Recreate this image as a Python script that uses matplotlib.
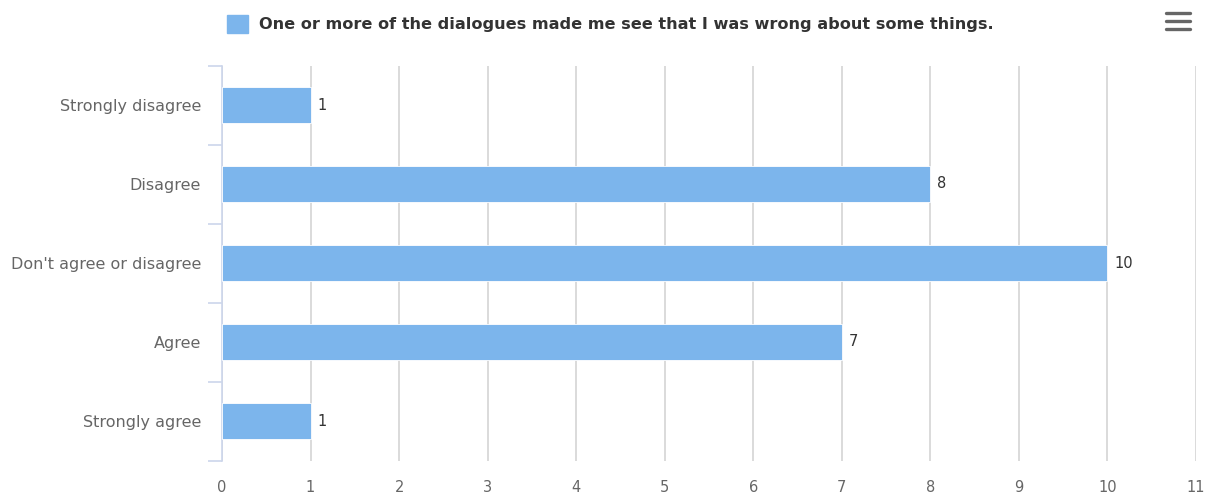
import matplotlib
matplotlib.use("Agg")
import matplotlib.pyplot as plt
from matplotlib.lines import Line2D
from matplotlib.patches import Rectangle

categories = ["Strongly disagree", "Disagree", "Don't agree or disagree", "Agree", "Strongly agree"]
values = [1, 8, 10, 7, 1]
series_name = "One or more of the dialogues made me see that I was wrong about some things."
x_ticks = list(range(0, 12))

W, H = 1212, 499
fig = plt.figure(figsize=(W / 100, H / 100), dpi=100)
fig.patch.set_facecolor("white")

def fx(px):
    return px / W

def fy(py):
    return 1 - py / H

ax = fig.add_axes([fx(222), fy(460.5), fx(1196) - fx(222), fy(65.5) - fy(460.5)])
bar_color = "#7cb5ec"
ypos = list(range(len(categories)))
ax.barh(ypos, values, height=0.46, color=bar_color, edgecolor="white", linewidth=0.6, zorder=3)
ax.set_ylim(len(categories) - 0.5, -0.5)
ax.set_xlim(0, 11)
ax.set_xticks(x_ticks)
ax.set_xticklabels([str(t) for t in x_ticks])
ax.grid(axis="x", color="#d8d8d8", linewidth=1.3, zorder=0)
ax.grid(axis="y", visible=False)
for s in ["top", "right", "bottom"]:
    ax.spines[s].set_visible(False)
ax.spines["left"].set_color("#ccd6eb")
ax.spines["left"].set_linewidth(1.2)
ax.tick_params(axis="x", length=0, pad=14, labelsize=10.5, labelcolor="#666666")
ax.set_yticks(ypos)
ax.set_yticklabels(categories)
ax.tick_params(axis="y", length=0, pad=15, labelsize=11.5, labelcolor="#666666")
# category boundary ticks
bounds = [i - 0.5 for i in range(len(categories) + 1)]
ax.set_yticks(bounds, minor=True)
ax.tick_params(axis="y", which="minor", length=10, width=1.2, color="#ccd6eb")
ax.set_facecolor("white")

for y, v in zip(ypos, values):
    ax.annotate(str(v), (v, y), xytext=(5, 0), textcoords="offset points",
                va="center", ha="left", fontsize=10.5, color="#333333", zorder=4)

# legend
fig.patches.append(Rectangle((fx(227), fy(33)), fx(248) - fx(227), fy(15) - fy(33),
                             transform=fig.transFigure, color=bar_color))
fig.text(fx(259), fy(25), series_name, fontsize=11.6, fontweight="bold", color="#333333",
         va="center", ha="left")

# hamburger menu icon
for yy in [13, 21, 29]:
    fig.lines.append(Line2D([fx(1166), fx(1190)], [fy(yy), fy(yy)], transform=fig.transFigure,
                            color="#666666", linewidth=2.4, solid_capstyle="round"))

fig.savefig("out.png", dpi=100, facecolor="white")
